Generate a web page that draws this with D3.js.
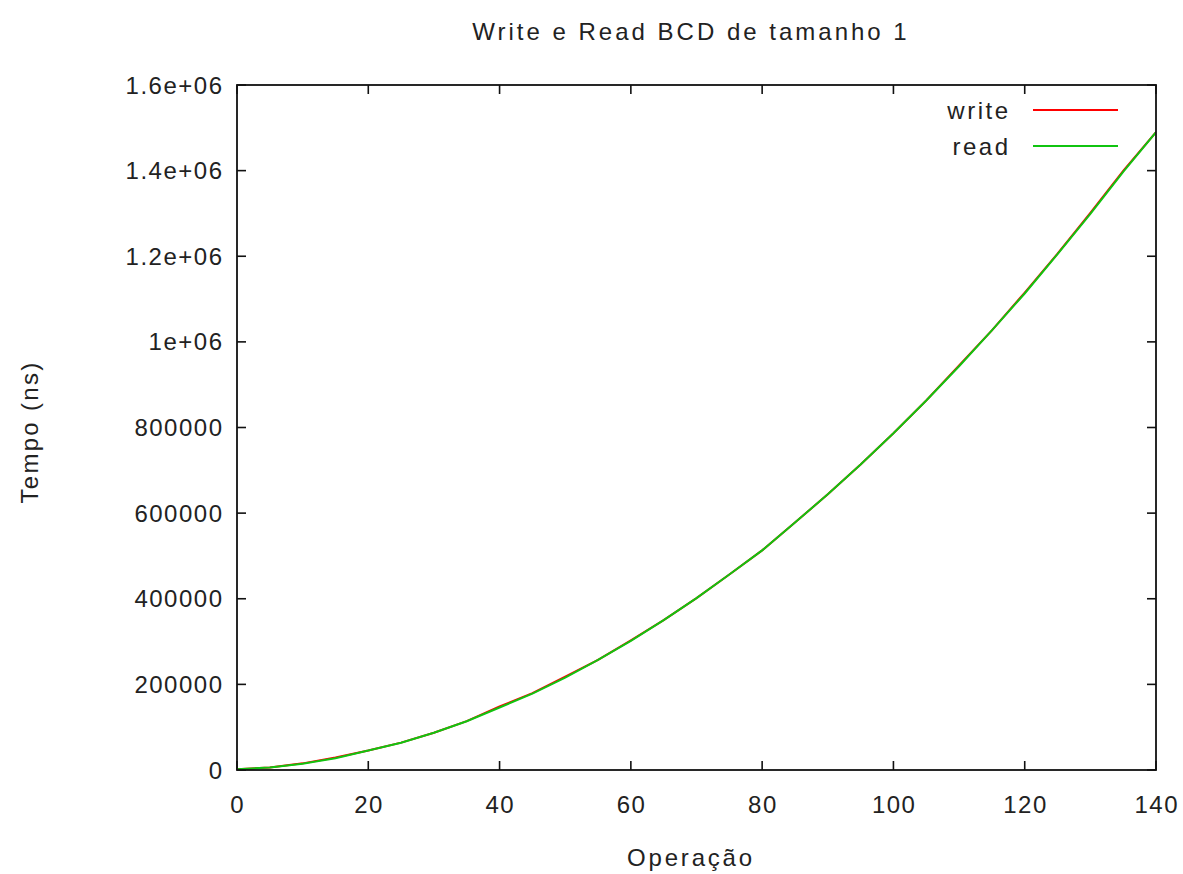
<!DOCTYPE html>
<html><head><meta charset="utf-8">
<script src="https://cdn.jsdelivr.net/npm/d3@7"></script>
<style>
body{margin:0;background:#fff}
text{font-family:"Liberation Sans",Arial,sans-serif;fill:#222}
</style>
</head><body>
<svg id="chart" width="1183" height="874"></svg>
<script>
const title = "Write e Read BCD de tamanho 1";
const xLabel = "Operação";
const yLabel = "Tempo (ns)";
const seriesNames = ["write", "read"];
const seriesColors = ["#ff0000", "#10c410"];

const operations = [0,5,10,15,20,25,30,35,40,45,50,55,60,65,70,75,80,85,90,95,100,105,110,115,120,125,130,135,140];
const readTimes = [2000,5600,14800,27500,45500,63500,87000,114000,146000,178500,216000,257000,301500,350000,401500,456500,513000,578000,644000,713500,786500,863000,943000,1027000,1113000,1205000,1299000,1397000,1490000];
const writeTimes = [2000,5600,15500,29000,45500,64000,87000,114000,148500,179500,218000,257000,303000,350000,401500,456500,513000,578000,644000,713500,786500,863000,945000,1027000,1115000,1206000,1301500,1399500,1490000];

const xTicks = [0,20,40,60,80,100,120,140];
const yTicks = [0,200000,400000,600000,800000,1000000,1200000,1400000,1600000];
const yTickLabels = ["0","200000","400000","600000","800000","1e+06","1.2e+06","1.4e+06","1.6e+06"];

const svg = d3.select("#chart");
const L = 237, R = 1156, T = 85, B = 770;

const x = d3.scaleLinear().domain([0, 140]).range([L, R]);
const y = d3.scaleLinear().domain([0, 1600000]).range([B, T]);

const tickLen = 9;
const axisColor = "#111";
const g = svg.append("g");
xTicks.forEach(v => {
  g.append("line").attr("x1", x(v)).attr("x2", x(v)).attr("y1", B).attr("y2", B - tickLen).attr("stroke", axisColor).attr("stroke-width", 1.6);
  g.append("line").attr("x1", x(v)).attr("x2", x(v)).attr("y1", T).attr("y2", T + tickLen).attr("stroke", axisColor).attr("stroke-width", 1.6);
  g.append("text").attr("x", x(v)).attr("y", 813).attr("text-anchor", "middle")
    .attr("font-size", 24).attr("letter-spacing", 1.5).attr("dx", 0.75).text(d3.format("d")(v));
});
yTicks.forEach((v, i) => {
  g.append("line").attr("x1", L).attr("x2", L + tickLen).attr("y1", y(v)).attr("y2", y(v)).attr("stroke", axisColor).attr("stroke-width", 1.6);
  g.append("line").attr("x1", R).attr("x2", R - tickLen).attr("y1", y(v)).attr("y2", y(v)).attr("stroke", axisColor).attr("stroke-width", 1.6);
  g.append("text").attr("x", 222).attr("y", y(v) + 8.5).attr("text-anchor", "end")
    .attr("font-size", 24).attr("letter-spacing", 1.5).attr("dx", 1.5).text(yTickLabels[i]);
});

const line = d3.line().x(d => x(d[0])).y(d => y(d[1]));
const seriesData = [
  operations.map((o, i) => [o, writeTimes[i]]),
  operations.map((o, i) => [o, readTimes[i]])
];
const plot = svg.append("g");
plot.append("clipPath").attr("id", "clip").append("rect").attr("x", L).attr("y", T).attr("width", R - L).attr("height", B - T);
seriesData.forEach((d, i) => {
  plot.append("path").datum(d).attr("d", line).attr("fill", "none")
    .attr("stroke", seriesColors[i]).attr("stroke-width", 2).attr("clip-path", "url(#clip)");
});

svg.append("rect").attr("x", L).attr("y", T).attr("width", R - L).attr("height", B - T)
  .attr("fill", "none").attr("stroke", axisColor).attr("stroke-width", 1.8);

const legY = [110, 146];
seriesNames.forEach((n, i) => {
  svg.append("text").attr("x", 1008).attr("y", legY[i] + 8.5).attr("text-anchor", "end")
    .attr("font-size", 24).attr("letter-spacing", 2.5).attr("dx", 2.5).text(n);
  svg.append("line").attr("x1", 1033).attr("x2", 1118).attr("y1", legY[i]).attr("y2", legY[i])
    .attr("stroke", seriesColors[i]).attr("stroke-width", 2);
});

svg.append("text").attr("x", 691).attr("y", 40).attr("text-anchor", "middle")
  .attr("font-size", 24).attr("letter-spacing", 3).text(title);
svg.append("text").attr("x", 691).attr("y", 866).attr("text-anchor", "middle")
  .attr("font-size", 24).attr("letter-spacing", 2.8).text(xLabel);
svg.append("text").attr("transform", "translate(38,432) rotate(-90)").attr("text-anchor", "middle")
  .attr("font-size", 24).attr("letter-spacing", 2.3).text(yLabel);
</script>
</body></html>
